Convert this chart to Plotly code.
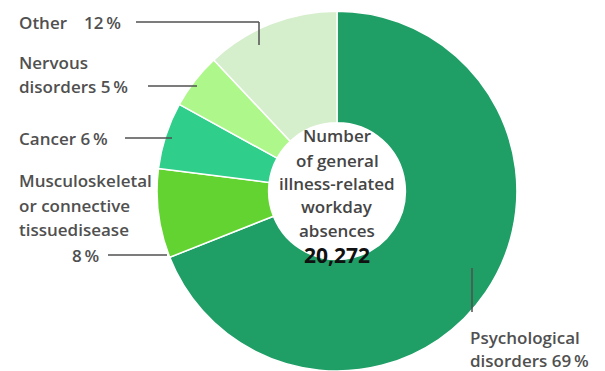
import plotly.graph_objects as go

# Share of general illness-related workday absences by diagnosis group
categories = ["Psychological disorders", "Musculoskeletal or connective tissuedisease",
              "Cancer", "Nervous disorders", "Other"]
shares = [69, 8, 6, 5, 12]
total_absences = 20272
colors = ["#1f9e66", "#63d331", "#2fce8a", "#aef78b", "#d5eecb"]

W, H = 605, 371
TXT = "#505050"
FONT = "Open Sans"
PCT = "\u2009%"


def px(x):
    return x / W


def py(y):
    return 1 - y / H


fig = go.Figure(go.Pie(
    labels=categories,
    values=shares,
    sort=False,
    direction="clockwise",
    rotation=0,
    hole=0.38,
    marker=dict(colors=colors, line=dict(color="white", width=1.5)),
    textinfo="none",
    hoverinfo="label+percent",
    domain=dict(x=[px(337 - 181), px(337 + 181)], y=[0, 0.97]),
    showlegend=False,
))

ann = []


def label(x, y, text, anchor="left", size=17, color=TXT, weight=600):
    ann.append(dict(
        x=px(x), y=py(y), xref="paper", yref="paper", text=text,
        showarrow=False, xanchor=anchor, yanchor="middle",
        font=dict(family=FONT, size=size, color=color, weight=weight),
    ))


# outside labels
label(17, 22, f"Other\u2002\u2002{shares[4]}{PCT}")
label(17, 62, "Nervous")
label(17, 86, f"disorders {shares[3]}{PCT}")
label(17, 138, f"Cancer {shares[2]}{PCT}")
label(17, 181, "Musculoskeletal")
label(17, 205, "or connective")
label(17, 229, "tissuedisease")
label(101, 255, f"{shares[1]}{PCT}", anchor="right")
label(468, 337, "Psychological")
label(468, 360, f"disorders {shares[0]}{PCT}")

# centre text
for yy, t in zip([136, 160, 183, 207, 230], ["Number", "of general", "illness-related", "workday", "absences"]):
    label(337, yy, t, anchor="center", size=17, color="#454545")
label(337, 255, f"{total_absences:,}", anchor="center", size=21, color="#111111", weight=700)

# leader lines
shapes = []


def seg(x0, y0, x1, y1):
    shapes.append(dict(type="line", xref="paper", yref="paper",
                       x0=px(x0), y0=py(y0), x1=px(x1), y1=py(y1),
                       line=dict(color="#505050", width=1.5)))


seg(136, 22, 259, 22)
seg(259, 22, 259, 45)
seg(148, 86, 197, 86)
seg(125, 138, 172, 138)
seg(108, 255, 167, 255)
seg(472, 268, 472, 312)

fig.update_layout(
    width=W, height=H,
    margin=dict(l=0, r=0, t=0, b=0),
    paper_bgcolor="white",
    plot_bgcolor="white",
    annotations=ann,
    shapes=shapes,
)

fig.write_html("out.html")
